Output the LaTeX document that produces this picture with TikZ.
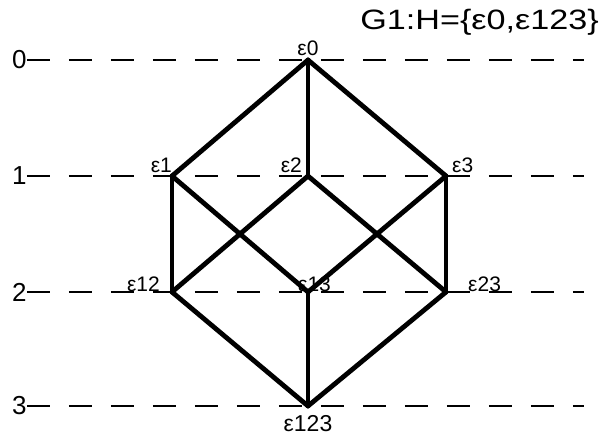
\documentclass[tikz,border=0pt]{standalone}
\usepackage{fontspec}
\setmainfont{Liberation Sans}
\usetikzlibrary{positioning}

\begin{document}
\begin{tikzpicture}[
  x=1pt, y=-1pt,
  lbl/.style={font=\fontsize{21}{21}\selectfont, inner sep=0pt},
  lvl/.style={font=\fontsize{26}{26}\selectfont, inner sep=0pt},
  edge/.style={line width=4.8pt, line cap=round, line join=miter},
  guide/.style={line width=2.9pt, dash pattern=on 23pt off 19pt}
]
\useasboundingbox (0,0) rectangle (604,438);

% Title
\node[font=\fontsize{28}{28}\selectfont, inner sep=0pt, anchor=east] (title) at (599,22)
  {\scalebox{1.22}[1]{G1:H=\{ε0,ε123\}}};

% Levels
\foreach \i/\y in {0/60, 1/176, 2/292, 3/406} {
  \node[lvl, anchor=west] (l\i) at (12,\y) {\i};
  \coordinate (r\i) at (584,\y);
  \draw[guide] (l\i.east) -- (r\i);
}

% Vertices
\coordinate (e0) at (308,60);
\coordinate (e1) at (172,176);
\coordinate (e2) at (308,176);
\coordinate (e3) at (446,176);
\coordinate (e12) at (172,292);
\coordinate (e13) at (308,292);
\coordinate (e23) at (446,292);
\coordinate (e123) at (308,406);

% Edges
\foreach \a/\b in {e0/e1, e0/e2, e0/e3, e1/e12, e1/e13, e2/e12, e2/e23,
                   e3/e13, e3/e23, e12/e123, e13/e123, e23/e123}
  \draw[edge] (\a) -- (\b);

% Labels
\node[lbl, above=4pt of e0] (t0) {ε0};
\node[lbl, above left=3pt and 0pt of e1] (t1) {ε1};
\node[lbl, above left=3pt and 6pt of e2] (t2) {ε2};
\node[lbl, above right=3pt and 6pt of e3] (t3) {ε3};
\node[lbl, above left=0pt and 12pt of e12] (t12) {ε12};
\node[lbl, above right=0pt and -10pt of e13] (t13) {ε13};
\node[lbl, above right=0pt and 22pt of e23] (t23) {ε23};
\node[lbl, font=\fontsize{23}{23}\selectfont, below=9pt of e123] (t123) {ε123};
\end{tikzpicture}
\end{document}
